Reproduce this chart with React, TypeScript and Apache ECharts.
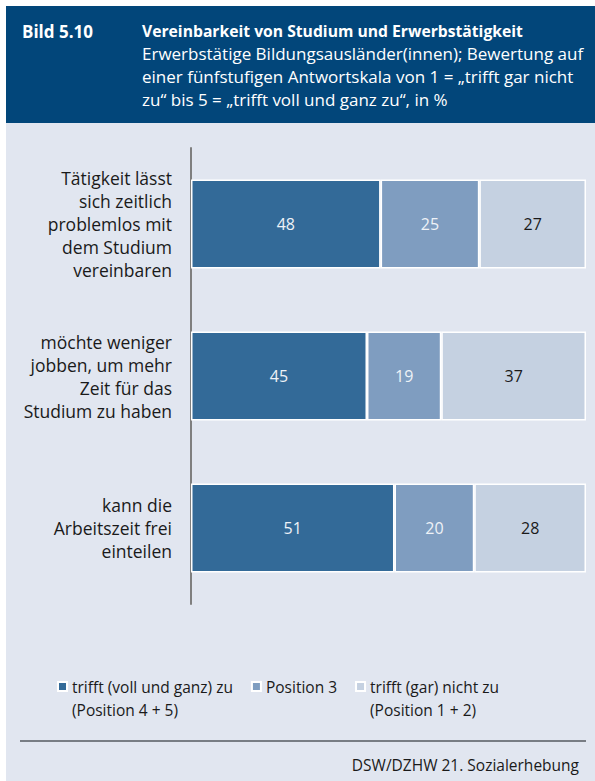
import React, { useEffect, useRef } from "react";
import * as echarts from "echarts";

const categories = [
  "Tätigkeit lässt\nsich zeitlich\nproblemlos mit\ndem Studium\nvereinbaren",
  "möchte weniger\njobben, um mehr\nZeit für das\nStudium zu haben",
  "kann die\nArbeitszeit frei\neinteilen",
];
const seriesNames = [
  "trifft (voll und ganz) zu (Position 4 + 5)",
  "Position 3",
  "trifft (gar) nicht zu (Position 1 + 2)",
];
const legendTexts = [
  " \ntrifft (voll und ganz) zu\n(Position 4 + 5)",
  "Position 3",
  " \ntrifft (gar) nicht zu\n(Position 1 + 2)",
];
const zustimmung = [48, 45, 51];
const position3 = [25, 19, 20];
const ablehnung = [27, 37, 28];

const colors = ["#336a98", "#7f9dc0", "#c5d1e1"];
const labelColors = ["#eef2f7", "#eef2f7", "#1a1a1a"];
const FONT = "'Open Sans', sans-serif";

export default function App() {
  const ref = useRef<HTMLDivElement>(null);
  useEffect(() => {
    if (!ref.current) return;
    const chart = echarts.init(ref.current, undefined, { renderer: "svg" });
    const raw = [zustimmung, position3, ablehnung];
    const totals = categories.map((_, i) => raw.reduce((s, a) => s + a[i], 0));
    const series = raw.map((arr, k) => ({
      name: seriesNames[k],
      type: "bar",
      stack: "total",
      barWidth: 89,
      data: arr.map((v, i) => ({ value: (v / totals[i]) * 100, raw: v })),
      itemStyle: { color: colors[k], borderColor: "#ffffff", borderWidth: 1.5 },
      label: {
        show: true,
        position: "inside",
        fontFamily: FONT,
        fontSize: 16,
        color: labelColors[k],
        formatter: (p: any) => String(p.data.raw),
      },
    }));
    chart.setOption({
      animation: false,
      backgroundColor: "#ffffff",
      textStyle: { fontFamily: FONT },
      graphic: [
        { type: "rect", shape: { x: 6, y: 123, width: 589, height: 658 }, style: { fill: "#e1e6f0" }, z: -10 },
        { type: "rect", shape: { x: 6, y: 6, width: 589, height: 117 }, style: { fill: "#02467a" }, z: -10 },
        { type: "text", x: 22, y: 31, style: { text: "Bild 5.10", fill: "#ffffff", font: `bold 17px ${FONT}`, verticalAlign: "middle" } },
        { type: "text", x: 142, y: 31, style: { text: "Vereinbarkeit von Studium und Erwerbstätigkeit", fill: "#ffffff", font: `bold 15.7px ${FONT}`, verticalAlign: "middle" } },
        {
          type: "text", x: 142, y: 42,
          style: {
            text: "Erwerbstätige Bildungsausländer(innen); Bewertung auf\neiner fünfstufigen Antwortskala von 1 = „trifft gar nicht\nzu“ bis 5 = „trifft voll und ganz zu“, in %",
            fill: "#ffffff", font: `17px ${FONT}`, lineHeight: 23, verticalAlign: "top",
          },
        },
        { type: "line", shape: { x1: 20, y1: 741, x2: 586, y2: 741 }, style: { stroke: "#555a60", lineWidth: 1.5 } },
        { type: "text", x: 579, y: 765, style: { text: "DSW/DZHW 21. Sozialerhebung", fill: "#1a1a1a", font: `15.5px ${FONT}`, align: "right", verticalAlign: "middle" } },
      ],
      legend: {
        left: 52,
        top: 647,
        itemWidth: 9,
        itemHeight: 9,
        itemGap: 18,
        icon: "rect",
        selectedMode: false,
        data: seriesNames,
        formatter: (name: string) => legendTexts[seriesNames.indexOf(name)],
        textStyle: { fontFamily: FONT, fontSize: 15.5, color: "#1a1a1a", lineHeight: 23 },
      },
      grid: { left: 191, right: 9, top: 148, height: 456, containLabel: false },
      xAxis: { type: "value", min: 0, max: 100, show: false },
      yAxis: {
        type: "category",
        inverse: true,
        data: categories,
        axisLine: { lineStyle: { color: "#7f7f7f", width: 2 } },
        axisTick: { show: false },
        axisLabel: { margin: 19, fontFamily: FONT, fontSize: 17.5, color: "#1a1a1a", lineHeight: 23, align: "right" },
      },
      series,
    });
    return () => chart.dispose();
  }, []);
  return (
    <div style={{ position: "absolute", left: 0, top: 0, width: 595, height: 781 }}>
      <div ref={ref} style={{ width: 595, height: 781 }} />
    </div>
  );
}
